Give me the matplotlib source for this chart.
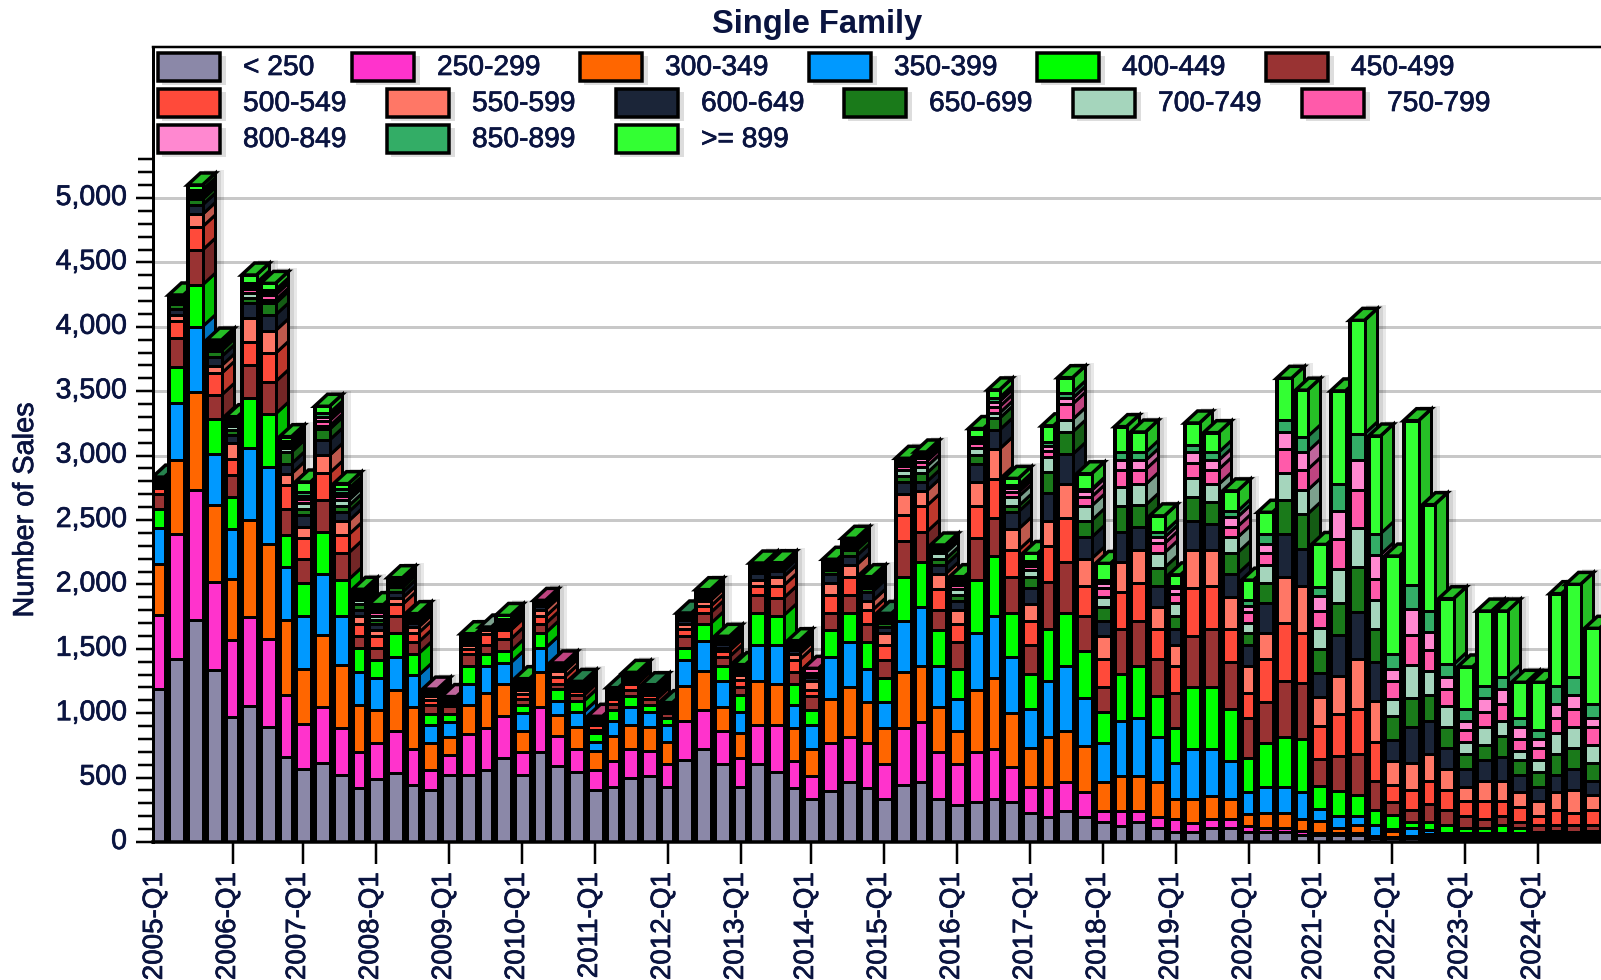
import numpy as np
import matplotlib
matplotlib.use("Agg")
from matplotlib import pyplot as plt
from matplotlib import patheffects
from matplotlib.patches import Polygon, Rectangle
from matplotlib.transforms import ScaledTranslation

plt.rcParams['font.family'] = ['Liberation Sans', 'DejaVu Sans']

years = list(range(2005, 2025))
tick_labels = ['%d-Q1' % y for y in years]

names = ['< 250', '250-299', '300-349', '350-399', '400-449', '450-499', '500-549', '550-599',
         '600-649', '650-699', '700-749', '750-799', '800-849', '850-899', '>= 899']
colors = ['#8b88a8', '#ff33cc', '#ff6600', '#0099ff', '#00ff00', '#993333', '#ff4a3a', '#ff7766',
          '#1b2538', '#1a7a1a', '#a5d5bc', '#ff5aaa', '#ff88d0', '#33ad66', '#33ff33']

# number of sales per quarter, 2005-Q1 .. 2024-Q4
s_lt250 = [1190, 1423, 1721, 1333, 970, 1053, 893, 660, 569, 613,
           518, 422, 492, 536, 445, 401, 518, 518, 562, 655,
           518, 699, 587, 541, 401, 424, 494, 515, 424, 634,
           725, 608, 424, 608, 541, 422, 336, 399, 468, 422,
           336, 445, 468, 336, 290, 313, 336, 313, 222, 197,
           244, 197, 153, 128, 153, 105, 80, 80, 105, 105,
           80, 80, 80, 58, 58, 58, 58, 34, 34, 34,
           25, 20, 20, 20, 20, 20, 20, 20, 20, 20]
s_250 = [575, 971, 1009, 686, 596, 694, 686, 479, 345, 435,
         370, 277, 277, 326, 280, 155, 155, 323, 323, 323,
         181, 349, 233, 184, 161, 207, 231, 189, 184, 303,
         302, 256, 231, 303, 370, 207, 176, 372, 347, 349,
         270, 443, 464, 363, 316, 386, 386, 269, 202, 227,
         222, 191, 91, 116, 91, 92, 95, 70, 70, 70,
         45, 25, 25, 25, 8, 8, 8, 8, 8, 8,
         20, 15, 15, 15, 15, 15, 15, 15, 15, 15]
s_300 = [393, 574, 761, 595, 479, 750, 737, 582, 432, 557,
         484, 362, 258, 316, 323, 213, 142, 220, 272, 246,
         163, 272, 163, 165, 142, 189, 186, 186, 166, 272,
         298, 187, 189, 342, 318, 259, 210, 342, 391, 319,
         282, 432, 434, 352, 256, 481, 551, 420, 305, 394,
         396, 361, 222, 272, 272, 269, 161, 186, 186, 161,
         91, 117, 117, 92, 95, 39, 63, 8, 46, 8,
         20, 15, 15, 15, 15, 15, 15, 15, 15, 15]
s_350 = [282, 438, 510, 398, 388, 559, 595, 414, 409, 478,
         383, 259, 246, 258, 246, 137, 117, 168, 207, 166,
         140, 186, 109, 117, 70, 117, 140, 117, 137, 207,
         233, 202, 163, 279, 303, 176, 186, 326, 347, 256,
         202, 396, 458, 315, 248, 443, 482, 434, 300, 435,
         505, 366, 305, 421, 443, 352, 274, 388, 363, 296,
         172, 202, 202, 213, 94, 97, 73, 80, 10, 61,
         25, 17, 17, 17, 17, 17, 17, 17, 17, 17]
s_400 = [148, 279, 324, 272, 246, 389, 412, 246, 256, 324,
         282, 186, 143, 187, 168, 90, 64, 135, 93, 90,
         59, 117, 93, 85, 70, 90, 85, 59, 49, 93,
         137, 116, 132, 248, 225, 163, 117, 207, 225, 207,
         183, 341, 350, 280, 233, 411, 466, 342, 274, 397,
         413, 369, 236, 366, 408, 319, 277, 482, 482, 397,
         266, 347, 394, 408, 178, 192, 165, 121, 111, 47,
         68, 68, 44, 44, 68, 44, 13, 21, 13, 21]
s_450 = [116, 225, 271, 186, 168, 258, 251, 207, 189, 246,
         207, 93, 90, 132, 91, 65, 60, 93, 70, 94,
         52, 72, 44, 47, 25, 44, 47, 44, 42, 93,
         85, 70, 67, 140, 137, 93, 111, 132, 140, 140,
         140, 280, 233, 155, 210, 326, 295, 279, 230, 369,
         397, 271, 199, 347, 352, 280, 272, 397, 444, 366,
         305, 319, 435, 438, 210, 271, 319, 225, 99, 93,
         140, 116, 93, 70, 69, 47, 55, 47, 55, 47]
s_500 = [46, 138, 181, 169, 129, 182, 220, 181, 163, 212,
         142, 96, 93, 90, 70, 40, 25, 44, 90, 69,
         39, 57, 52, 30, 42, 39, 46, 30, 25, 52,
         50, 46, 49, 70, 96, 93, 42, 140, 139, 108,
         116, 204, 202, 166, 140, 249, 302, 210, 186, 277,
         341, 236, 211, 294, 294, 233, 208, 366, 341, 255,
         200, 327, 444, 391, 258, 325, 349, 303, 134, 155,
         178, 155, 117, 140, 117, 116, 69, 116, 93, 116]
s_550 = [20, 44, 96, 59, 124, 181, 176, 91, 83, 137,
         106, 57, 44, 49, 46, 30, 15, 25, 26, 25,
         25, 52, 44, 20, 20, 25, 20, 25, 15, 41,
         44, 25, 44, 47, 68, 47, 72, 90, 94, 70,
         94, 161, 116, 114, 108, 186, 233, 163, 131, 200,
         258, 208, 186, 233, 255, 175, 166, 299, 277, 249,
         208, 208, 363, 366, 222, 297, 388, 318, 184, 210,
         210, 163, 109, 155, 155, 117, 117, 140, 178, 116]
s_600 = [15, 43, 73, 70, 60, 116, 122, 77, 90, 119,
         70, 47, 52, 47, 30, 15, 8, 15, 12, 15,
         20, 25, 20, 15, 15, 20, 15, 15, 15, 25,
         20, 25, 20, 52, 45, 30, 30, 73, 70, 73,
         49, 96, 70, 70, 70, 140, 148, 135, 119, 211,
         233, 166, 116, 230, 181, 166, 117, 228, 203, 183,
         166, 227, 328, 283, 186, 321, 363, 303, 163, 279,
         256, 163, 139, 163, 187, 132, 109, 132, 163, 109]
s_650 = [10, 40, 44, 47, 40, 40, 90, 91, 47, 83,
         47, 46, 30, 35, 25, 10, 5, 15, 8, 15,
         20, 20, 15, 15, 10, 15, 15, 15, 10, 15,
         15, 20, 15, 25, 25, 25, 20, 30, 46, 30,
         30, 44, 67, 46, 47, 72, 91, 44, 91, 163,
         174, 131, 106, 202, 166, 139, 105, 183, 166, 164,
         92, 161, 268, 272, 186, 250, 352, 256, 186, 226,
         202, 163, 117, 117, 163, 116, 116, 163, 163, 140]
s_700 = [8, 15, 25, 20, 30, 40, 26, 30, 52, 25,
         44, 30, 30, 20, 15, 10, 5, 10, 6, 10,
         15, 12, 15, 10, 10, 10, 10, 10, 5, 10,
         10, 10, 10, 15, 15, 15, 15, 25, 25, 25,
         25, 46, 52, 47, 46, 49, 40, 72, 50, 119,
         97, 113, 74, 145, 161, 116, 97, 144, 139, 119,
         75, 139, 211, 185, 166, 258, 302, 225, 132, 256,
         186, 163, 93, 139, 116, 70, 93, 163, 163, 140]
s_750 = [5, 10, 20, 15, 25, 30, 39, 25, 30, 42,
         30, 25, 30, 15, 10, 11, 5, 10, 0, 10,
         10, 15, 15, 5, 10, 5, 5, 5, 5, 10,
         10, 10, 10, 10, 10, 10, 33, 15, 20, 20,
         20, 35, 40, 20, 30, 39, 50, 35, 30, 45,
         120, 70, 70, 138, 116, 72, 70, 116, 116, 84,
         83, 94, 186, 161, 133, 233, 295, 163, 140, 233,
         163, 132, 93, 117, 132, 93, 93, 116, 140, 139]
s_800 = [5, 10, 15, 15, 20, 25, 20, 20, 25, 30,
         30, 20, 20, 15, 10, 10, 10, 10, 0, 10,
         10, 0, 0, 5, 0, 5, 5, 5, 3, 10,
         5, 5, 5, 5, 5, 10, 0, 15, 15, 15,
         15, 20, 30, 15, 25, 25, 40, 30, 25, 44,
         44, 50, 44, 70, 70, 47, 47, 92, 70, 74,
         47, 69, 130, 139, 117, 222, 233, 187, 93, 202,
         140, 93, 70, 109, 116, 93, 70, 109, 109, 70]
s_850 = [20, 10, 15, 12, 12, 25, 20, 14, 25, 30,
         30, 20, 18, 10, 5, 0, 0, 10, 0, 5,
         10, 0, 0, 8, 0, 8, 5, 6, 2, 13,
         5, 5, 5, 10, 5, 5, 0, 10, 10, 10,
         13, 15, 20, 10, 20, 25, 30, 25, 20, 30,
         44, 10, 20, 63, 63, 42, 15, 50, 63, 45,
         45, 73, 97, 116, 69, 210, 202, 163, 117, 186,
         163, 96, 93, 93, 93, 70, 70, 140, 139, 109]
s_899 = [0, 27, 36, 20, 15, 60, 50, 30, 80, 52,
         39, 22, 20, 16, 9, 0, 0, 21, 0, 26,
         6, 0, 0, 0, 0, 0, 13, 0, 0, 0,
         20, 12, 13, 12, 5, 8, 0, 19, 21, 16,
         0, 21, 24, 17, 21, 65, 60, 52, 55, 123,
         117, 120, 130, 200, 158, 125, 90, 172, 153, 158,
         158, 172, 320, 361, 330, 721, 880, 758, 763, 1273,
         823, 510, 324, 579, 510, 275, 368, 714, 717, 585]

series = [s_lt250, s_250, s_300, s_350, s_400, s_450, s_500, s_550,
          s_600, s_650, s_700, s_750, s_800, s_850, s_899]

W, H = 1601, 980
AX_L, AX_T, AX_B = 153, 47, 842
PX_PER_SALE = 0.1288
LW = 72 / 100.0  # one pixel in points
TEXT_COLOR = '#0a1440'
# the source text is a little heavy, a thin stroke gets it close
heavy = [patheffects.withStroke(linewidth=0.5, foreground=TEXT_COLOR)]


def darken(c, f=0.75):
    r = matplotlib.colors.to_rgb(c)
    return (r[0] * f, r[1] * f, r[2] * f)


def barLeft(i):
    # the source chart snaps its bars, a short step comes every 3 or 4 quarters
    return 19 * i - 3 * ((2 * i + 5) // 7)


fig = plt.figure(figsize=(W / 100.0, H / 100.0), dpi=100)
ax = fig.add_axes([AX_L / W, 1 - AX_B / H, (W - AX_L) / W, (AX_B - AX_T) / H])
ax.set_xlim(-1, W - AX_L - 1)
ax.set_ylim(0, (AX_B - AX_T) / PX_PER_SALE)

dx = 13
dy = 12 / PX_PER_SALE
data = np.array(series, dtype=float)

for i in range(data.shape[1]):
    z = 3 + i * 0.01
    left = barLeft(i)
    wid = barLeft(i + 1) - left - 7
    right = left + wid
    bands = data[:, i]
    total = bands.sum()
    topIdx = np.nonzero(bands)[0][-1]

    # drop shadow, two soft layers
    for extra, lift in ((8, 3), (5, 2)):
        ax.add_patch(Rectangle((left + dx + 2, 0), wid + extra, total + dy + lift / PX_PER_SALE,
                               facecolor='black', alpha=0.09, edgecolor='none', zorder=z))

    # side faces
    edge = right + 1.5
    bottom = 0
    for k, val in enumerate(bands):
        if val > 0:
            pts = [(edge, bottom), (edge + dx, bottom + dy), (edge + dx, bottom + val + dy), (edge, bottom + val)]
            ax.add_patch(Polygon(pts, facecolor=darken(colors[k]), edgecolor='black', linewidth=3 * LW, zorder=z))
        bottom += val

    # top face
    pts = [(left - 1.5, total), (edge, total), (edge + dx, total + dy), (left - 1.5 + dx, total + dy)]
    ax.add_patch(Polygon(pts, facecolor=darken(colors[topIdx]), edgecolor='black', linewidth=3.5 * LW, zorder=z))

    # black behind the front, it fills the gap to the next bar
    ax.add_patch(Rectangle((left - 3.5, 0), wid + 7, total, facecolor='black', edgecolor='none', zorder=z))

    bottom = 0
    for k, val in enumerate(bands):
        if val > 0:
            ax.bar(left - 1.5, val, wid + 3, bottom=bottom, align='edge', color=colors[k],
                   edgecolor='black', linewidth=3 * LW, zorder=z)
        bottom += val

# axes
ax.spines['right'].set_visible(False)
ax.spines['left'].set_linewidth(3 * LW)
ax.spines['bottom'].set_linewidth(3.5 * LW)
ax.spines['top'].set_linewidth(2.5 * LW)
for side in ('left', 'bottom', 'top'):
    ax.spines[side].set_zorder(100)

ax.set_yticks(np.arange(0, 5001, 500))
ax.set_yticks([v for v in range(100, 5301, 100) if v % 500 != 0], minor=True)
ax.set_yticklabels(['{:,}'.format(v) for v in range(0, 5001, 500)])
ax.grid(axis='y', which='major', color='#c8c8c8', linewidth=3 * LW, zorder=0.5)
ax.set_axisbelow(True)
ax.tick_params(axis='y', which='major', length=17 * LW, width=2.5 * LW, pad=9 * LW,
               labelsize=20.5, labelcolor=TEXT_COLOR)
ax.tick_params(axis='y', which='minor', length=15 * LW, width=2.5 * LW)

ax.set_xticks([barLeft(4 * n) + 6 for n in range(len(years))])
ax.set_xticklabels(tick_labels, rotation=90, va='top', ha='center')
ax.tick_params(axis='x', which='major', length=22 * LW, width=2.5 * LW, pad=8 * LW,
               labelsize=20, labelcolor=TEXT_COLOR)
ax.xaxis.get_major_ticks()[0].tick1line.set_visible(False)
shift = ScaledTranslation(-5 / 100.0, 0, fig.dpi_scale_trans)
for lab in ax.get_xticklabels():
    lab.set_transform(lab.get_transform() + shift)
    lab.set_path_effects(heavy)
lift_y = ScaledTranslation(0, 3 / 100.0, fig.dpi_scale_trans)
for lab in ax.get_yticklabels():
    lab.set_transform(lab.get_transform() + lift_y)
    lab.set_path_effects(heavy)

fig.text(817 / W, 1 - 24 / H, 'Single Family', ha='center', va='center', fontsize=23.5,
         fontweight='bold', color=TEXT_COLOR)
fig.text(25 / W, 1 - 510 / H, 'Number of Sales', rotation=90, ha='center', va='center',
         fontsize=20.8, color=TEXT_COLOR, path_effects=heavy)

# legend, drawn by hand to keep the boxes of the source
legend_rows = [(52, [158, 352, 580, 809, 1037, 1266]),
               (88, [158, 387, 616, 844, 1073, 1302]),
               (124, [158, 387, 616])]
k = 0
for y, xs in legend_rows:
    for x in xs:
        fig.add_artist(Rectangle((x / W + 4 / W, 1 - (y + 33) / H), 64 / W, 29 / H, facecolor='#dddddd',
                                 edgecolor='none', transform=fig.transFigure, zorder=5))
        fig.add_artist(Rectangle((x / W, 1 - (y + 29) / H), 62 / W, 28 / H, facecolor=colors[k],
                                 edgecolor='black', linewidth=3.5 * LW, transform=fig.transFigure, zorder=6))
        fig.text((x + 85) / W, 1 - (y + 16) / H, names[k], ha='left', va='center', fontsize=20.3,
                 color=TEXT_COLOR, zorder=6, path_effects=heavy)
        k += 1

fig.savefig('out.png', dpi=100)
